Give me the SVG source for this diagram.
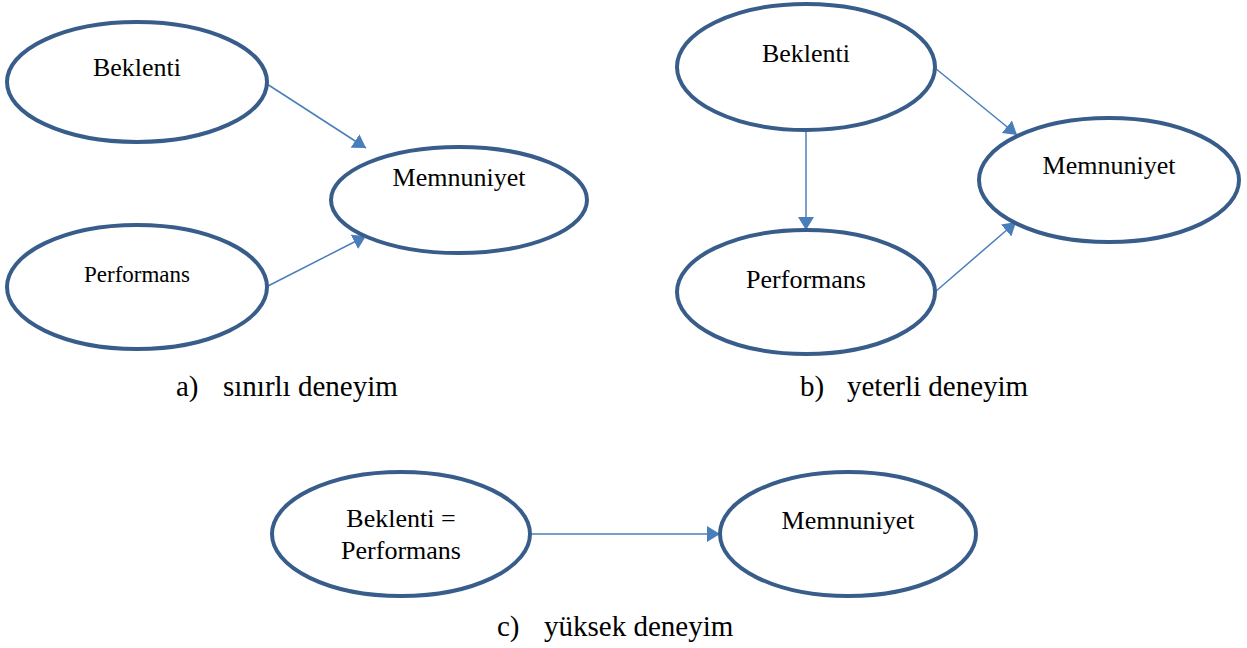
<svg xmlns="http://www.w3.org/2000/svg" width="1247" height="648" viewBox="0 0 1247 648">
<style>
.node ellipse{fill:#fff;stroke:#385D8A;stroke-width:4}
text{font-family:"Liberation Serif","Times New Roman",serif;fill:#000;text-anchor:middle}
.lbl{font-size:26px}
.sm{font-size:23px}
.cap{font-size:29px;text-anchor:start}
.edge{stroke:#4A7EBB;stroke-width:1.5;fill:none;marker-end:url(#ah)}
</style>
<defs>
<marker id="ah" markerUnits="userSpaceOnUse" markerWidth="14" markerHeight="16" refX="13" refY="8" orient="auto">
<path d="M0,0 L13,8 L0,16 z" fill="#4A7EBB"/>
</marker>
</defs>
<rect width="1247" height="648" fill="#fff"/>
<g id="connectors">
<line class="edge" x1="267" y1="84" x2="366" y2="148"/>
<line class="edge" x1="268" y1="286" x2="366" y2="236"/>
<line class="edge" x1="806" y1="130" x2="806" y2="230"/>
<line class="edge" x1="935" y1="68" x2="1017" y2="135"/>
<line class="edge" x1="935" y1="292" x2="1016" y2="222"/>
<line class="edge" x1="530" y1="534" x2="720" y2="534"/>
</g>
<g id="a-beklenti" class="node"><ellipse cx="137" cy="82" rx="130" ry="60"/><text class="lbl" x="137" y="76">Beklenti</text></g>
<g id="a-memnuniyet" class="node"><ellipse cx="459" cy="200" rx="128" ry="53"/><text class="lbl" x="459" y="186">Memnuniyet</text></g>
<g id="a-performans" class="node"><ellipse cx="137" cy="287" rx="130" ry="62"/><text class="sm" x="137" y="282">Performans</text></g>
<g id="b-beklenti" class="node"><ellipse cx="806" cy="67" rx="129" ry="63"/><text class="lbl" x="806" y="62">Beklenti</text></g>
<g id="b-memnuniyet" class="node"><ellipse cx="1109" cy="180" rx="130" ry="62"/><text class="lbl" x="1109" y="174">Memnuniyet</text></g>
<g id="b-performans" class="node"><ellipse cx="806" cy="292" rx="129" ry="62"/><text class="lbl" x="806" y="288">Performans</text></g>
<g id="c-beklenti-performans" class="node"><ellipse cx="401" cy="534" rx="129" ry="62"/><text class="lbl" x="401" y="527">Beklenti =</text><text class="lbl" x="401" y="559">Performans</text></g>
<g id="c-memnuniyet" class="node"><ellipse cx="848" cy="534" rx="128" ry="62"/><text class="lbl" x="848" y="529">Memnuniyet</text></g>
<g id="captions">
<text class="cap" x="176" y="396">a)</text><text class="cap" x="223" y="396">sınırlı deneyim</text>
<text class="cap" x="800" y="396">b)</text><text class="cap" x="847" y="396">yeterli deneyim</text>
<text class="cap" x="497" y="636">c)</text><text class="cap" x="544" y="636">yüksek deneyim</text>
</g>
</svg>
